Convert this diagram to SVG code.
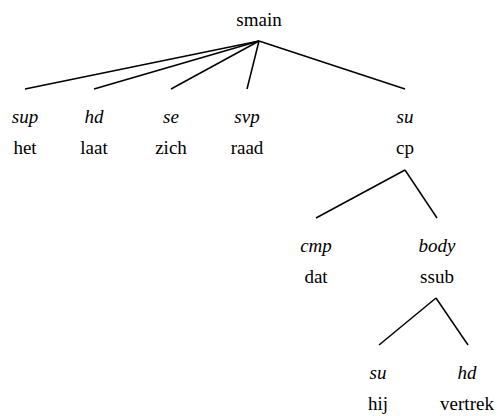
<svg xmlns="http://www.w3.org/2000/svg" width="497" height="416" viewBox="0 0 497 416">
<style>
.t{font-family:"Liberation Serif","Times New Roman",serif;font-size:19px;fill:#000;text-anchor:middle}
.l{font-style:italic}
.c line{stroke:#000;stroke-width:1.5}
</style>
<rect width="497" height="416" fill="#fff"/>
<g id="connectors" class="c">
<line x1="259" y1="41" x2="25" y2="89"/>
<line x1="259" y1="41" x2="94" y2="89"/>
<line x1="259" y1="41" x2="171" y2="89"/>
<line x1="259" y1="41" x2="247" y2="89"/>
<line x1="259" y1="41" x2="405" y2="89"/>
<line x1="405" y1="170" x2="316" y2="218"/>
<line x1="405" y1="170" x2="437" y2="218"/>
<line x1="436" y1="298" x2="379" y2="345"/>
<line x1="436" y1="298" x2="468" y2="345"/>
</g>
<g id="n-smain"><text class="t" x="259" y="26">smain</text></g>
<g id="n-het"><text class="t l" x="25" y="123">sup</text><text class="t" x="25" y="154">het</text></g>
<g id="n-laat"><text class="t l" x="94" y="123">hd</text><text class="t" x="94" y="154">laat</text></g>
<g id="n-zich"><text class="t l" x="171" y="123">se</text><text class="t" x="171" y="154">zich</text></g>
<g id="n-raad"><text class="t l" x="247" y="123">svp</text><text class="t" x="247" y="154">raad</text></g>
<g id="n-cp"><text class="t l" x="405" y="123">su</text><text class="t" x="405" y="154">cp</text></g>
<g id="n-dat"><text class="t l" x="316" y="252">cmp</text><text class="t" x="316" y="283">dat</text></g>
<g id="n-ssub"><text class="t l" x="437" y="252">body</text><text class="t" x="437" y="283">ssub</text></g>
<g id="n-hij"><text class="t l" x="378" y="379">su</text><text class="t" x="378" y="410">hij</text></g>
<g id="n-vertrek"><text class="t l" x="467" y="379">hd</text><text class="t" x="467" y="410">vertrek</text></g>
</svg>
